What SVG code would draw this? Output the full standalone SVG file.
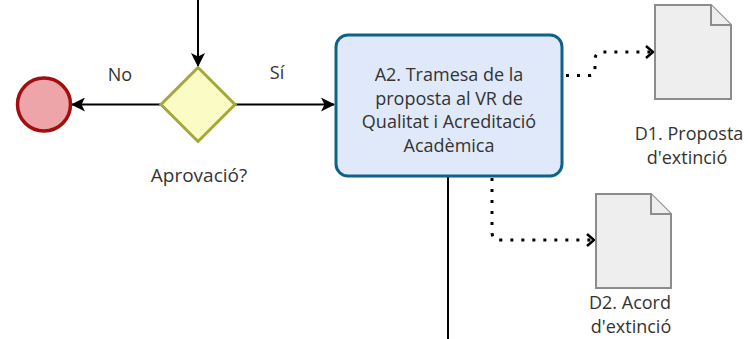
<svg xmlns="http://www.w3.org/2000/svg" width="749" height="339" viewBox="0 0 749 339">
<style>
  text { font-family: "Open Sans", "Noto Sans", "DejaVu Sans", sans-serif; font-size: 18px; fill: #333333; }
  .flow { fill: none; stroke: #000000; stroke-width: 2; }
  .assoc { fill: none; stroke: #000000; stroke-width: 3; stroke-dasharray: 3 8; stroke-linecap: butt; }
  .doc { fill: #eeeeee; stroke: #8c8c8c; stroke-width: 2; }
</style>
<defs>
  <marker id="solidArrow" viewBox="0 0 14 14" refX="13" refY="7" markerWidth="14" markerHeight="14" markerUnits="userSpaceOnUse" orient="auto">
    <path d="M0,0 L14,7 L0,14 L3.5,7 Z" fill="#000000"/>
  </marker>
  <marker id="openArrow" viewBox="0 0 10 14" refX="9" refY="7" markerWidth="10" markerHeight="14" markerUnits="userSpaceOnUse" orient="auto">
    <path d="M2,1 L9,7 L2,13" fill="none" stroke="#000000" stroke-width="2.5"/>
  </marker>
</defs>
<rect width="749" height="339" fill="#ffffff"/>
<g id="connectors">
  <path class="flow" d="M198,0 L198,66" marker-end="url(#solidArrow)"/>
  <path class="flow" d="M161,104.5 L72,104.5" marker-end="url(#solidArrow)"/>
  <path class="flow" d="M235,104.5 L334,104.5" marker-end="url(#solidArrow)"/>
  <path class="flow" d="M448,176 L448,339"/>
  <path class="assoc" d="M566,75.5 L590,75.5 Q595,75.5 595,68 L595,60 Q595,52 603,52 L653,52" marker-end="url(#openArrow)"/>
  <path class="assoc" d="M492,178 L492,232 Q492,240 500,240 L594,240" marker-end="url(#openArrow)"/>
  <text x="120" y="81" text-anchor="middle">No</text>
  <text x="277" y="79" text-anchor="middle">Sí</text>
</g>
<g id="start-end">
  <circle cx="44" cy="104.5" r="26.5" fill="#eda5aa" stroke="#a20d0d" stroke-width="3.5"/>
</g>
<g id="gateway">
  <polygon points="198,67.5 235,104.5 198,141.5 161,104.5" fill="#fbfbc5" stroke="#a2a83b" stroke-width="3"/>
  <text x="199" y="182" text-anchor="middle" style="font-size:19px">Aprovació?</text>
</g>
<g id="task-a2">
  <rect x="336" y="35" width="226" height="141" rx="12" ry="12" fill="#dfe9f9" stroke="#0f6287" stroke-width="3"/>
  <text x="449" y="81" text-anchor="middle">A2. Tramesa de la</text>
  <text x="449" y="105" text-anchor="middle">proposta al VR de</text>
  <text x="449" y="128" text-anchor="middle">Qualitat i Acreditació</text>
  <text x="449" y="152" text-anchor="middle">Acadèmica</text>
</g>
<g id="doc-d1">
  <path class="doc" d="M655,5 L711,5 L731,25 L731,99 L655,99 Z"/>
  <path class="doc" d="M711,5 L711,25 L731,25" fill="none"/>
  <text x="689" y="140" text-anchor="middle">D1. Proposta</text>
  <text x="687" y="164" text-anchor="middle">d'extinció</text>
</g>
<g id="doc-d2">
  <path class="doc" d="M596,194 L651,194 L671,214 L671,288 L596,288 Z"/>
  <path class="doc" d="M651,194 L651,214 L671,214" fill="none"/>
  <text x="630" y="309" text-anchor="middle">D2. Acord</text>
  <text x="631" y="333" text-anchor="middle">d'extinció</text>
</g>
</svg>
